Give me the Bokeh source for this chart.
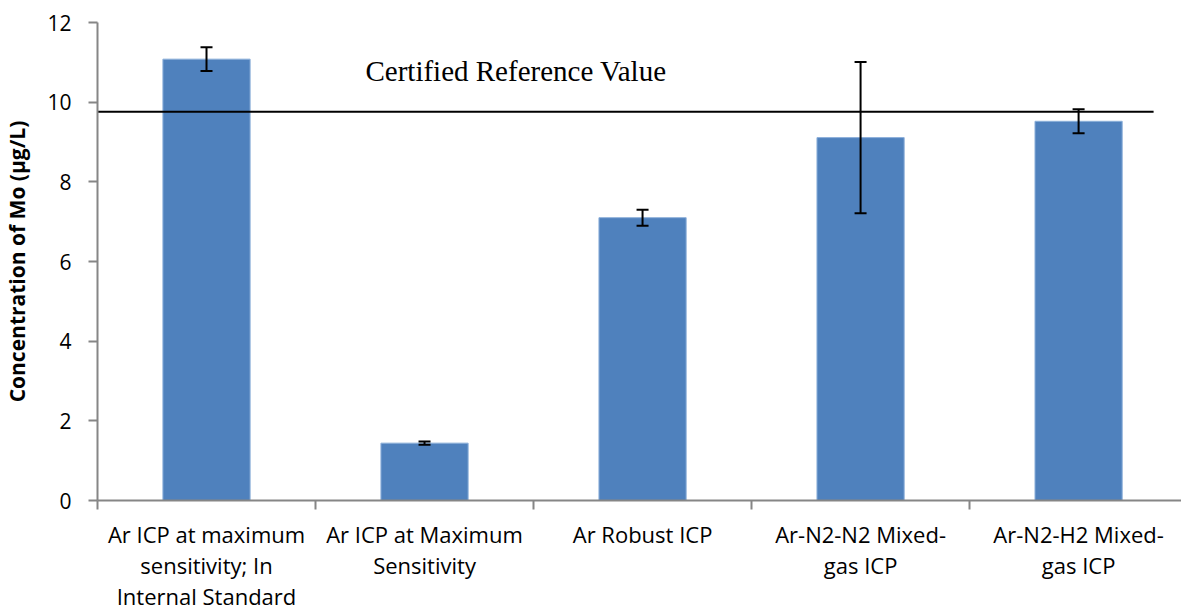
from bokeh.plotting import figure
from bokeh.models import ColumnDataSource, Range1d, FixedTicker, Whisker, TeeHead, Label
from bokeh.embed import file_html
from bokeh.resources import INLINE

categories = [
    "Ar ICP at maximum\nsensitivity; In\nInternal Standard",
    "Ar ICP at Maximum\nSensitivity",
    "Ar Robust ICP",
    "Ar-N2-N2 Mixed-\ngas ICP",
    "Ar-N2-H2 Mixed-\ngas ICP",
]
values = [11.08, 1.44, 7.10, 9.11, 9.52]
errors = [0.30, 0.04, 0.20, 1.90, 0.30]
y_ticks = [0, 2, 4, 6, 8, 10, 12]
ref_value = 9.76
ref_label = "Certified Reference Value"

xs = [i + 0.5 for i in range(len(categories))]
src = ColumnDataSource(dict(
    x=xs, top=values,
    upper=[v + e for v, e in zip(values, errors)],
    lower=[v - e for v, e in zip(values, errors)],
))

p = figure(width=1181, height=613, output_backend="svg", toolbar_location=None,
           x_range=Range1d(0, 4.972), y_range=Range1d(0, 12),
           min_border_left=97, min_border_right=0, min_border_top=22, min_border_bottom=111)
p.outline_line_color = None
p.xgrid.grid_line_color = None
p.ygrid.grid_line_color = None
p.background_fill_color = "white"
p.border_fill_color = "white"

p.vbar(x="x", top="top", width=0.4, bottom=0, source=src,
       fill_color="#4F81BD", line_color="#8DB0DA", line_width=1)

w = Whisker(source=src, base="x", upper="upper", lower="lower",
            line_color="black", line_width=2, level="overlay",
            upper_head=TeeHead(size=12, line_color="black", line_width=2),
            lower_head=TeeHead(size=12, line_color="black", line_width=2))
p.add_layout(w)

p.segment(x0=[0], y0=[ref_value], x1=[4.844], y1=[ref_value], line_color="black", line_width=2)

p.add_layout(Label(x=1.229, y=10.78, text=ref_label, text_font="Liberation Serif",
                   text_font_size="29px", text_color="black", text_baseline="middle"))

xa = p.xaxis[0]
xa.ticker = FixedTicker(ticks=xs, minor_ticks=list(range(len(categories) + 1)))
xa.major_label_overrides = {x: c for x, c in zip(xs, categories)}
xa.major_tick_out = 0
xa.major_tick_in = 0
xa.minor_tick_out = 9
xa.minor_tick_in = 0
xa.minor_tick_line_color = "#868686"
xa.minor_tick_line_width = 2
xa.axis_line_color = "#868686"
xa.axis_line_width = 2
xa.major_label_text_font = "Open Sans"
xa.major_label_text_font_size = "22px"
xa.major_label_text_color = "black"
xa.major_label_text_line_height = 1.04
xa.major_label_standoff = 9
xa.major_label_orientation = "horizontal"

ya = p.yaxis[0]
ya.ticker = FixedTicker(ticks=y_ticks, minor_ticks=[])
ya.major_tick_out = 9
ya.major_tick_in = 0
ya.major_tick_line_color = "#868686"
ya.major_tick_line_width = 2
ya.axis_line_color = "#868686"
ya.axis_line_width = 2
ya.major_label_text_font = "Open Sans"
ya.major_label_text_font_size = "21px"
ya.major_label_text_color = "black"
ya.major_label_standoff = 17
ya.axis_label = "Concentration of Mo (µg/L)"
ya.axis_label_text_font = "Open Sans"
ya.axis_label_text_font_style = "bold"
ya.axis_label_text_font_size = "21px"
ya.axis_label_text_color = "black"
ya.axis_label_standoff = 13

open("out.html", "w").write(file_html(p, INLINE))
